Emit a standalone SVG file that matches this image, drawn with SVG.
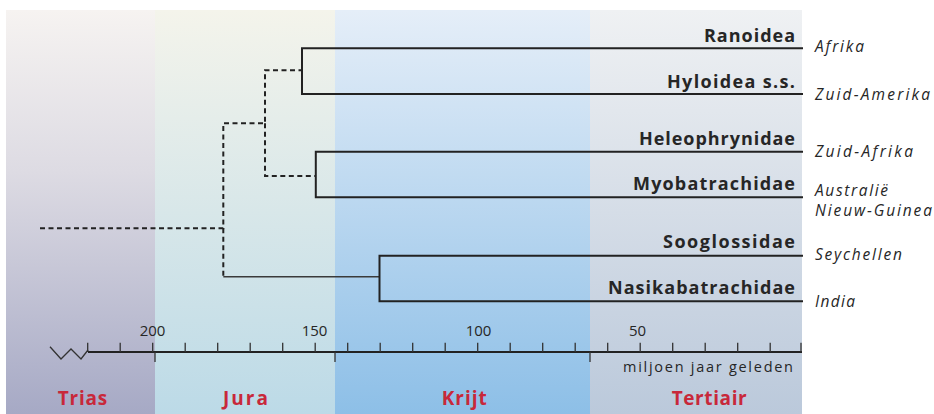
<svg xmlns="http://www.w3.org/2000/svg" width="934" height="414" viewBox="0 0 934 414">
<defs>
<linearGradient id="gTrias" x1="0" y1="0" x2="0" y2="1">
<stop offset="0" stop-color="#f6f3f1"/><stop offset="0.4" stop-color="#dddbe3"/><stop offset="1" stop-color="#a6a9c5"/>
</linearGradient>
<linearGradient id="gJura" x1="0" y1="0" x2="0" y2="1">
<stop offset="0" stop-color="#f4f4eb"/><stop offset="1" stop-color="#bcdae7"/>
</linearGradient>
<linearGradient id="gKrijt" x1="0" y1="0" x2="0" y2="1">
<stop offset="0" stop-color="#e5eef8"/><stop offset="1" stop-color="#8dbfe7"/>
</linearGradient>
<linearGradient id="gTert" x1="0" y1="0" x2="0" y2="1">
<stop offset="0" stop-color="#eff1f3"/><stop offset="1" stop-color="#bbc9db"/>
</linearGradient>
<style>
text{font-variant-ligatures:none}
.br{fill:none;stroke:#222;stroke-width:2;stroke-linecap:square}
.ds{fill:none;stroke:#222;stroke-width:2;stroke-dasharray:5 3.5}
.tick{stroke:#333;stroke-width:1.3}
.tax{font-family:"Open Sans",Lato,sans-serif;font-weight:bold;font-size:18px;fill:#262626;text-anchor:end}
.reg{font-family:"Open Sans",Lato,sans-serif;font-style:italic;font-size:15.5px;fill:#262626}
.num{font-family:"Open Sans",Lato,sans-serif;font-size:15px;fill:#262626;text-anchor:middle}
.per{font-family:"Open Sans",Lato,sans-serif;font-weight:bold;font-size:19px;fill:#c8283a;text-anchor:middle}
</style>
</defs>
<g id="background">
<rect x="6" y="10" width="149" height="404" fill="url(#gTrias)"/>
<rect x="155" y="10" width="180" height="404" fill="url(#gJura)"/>
<rect x="335" y="10" width="255" height="404" fill="url(#gKrijt)"/>
<rect x="590" y="10" width="212" height="404" fill="url(#gTert)"/>
</g>
<g id="connectors">
<path class="ds" d="M40 228.3 H223.3 V123.3 H265 V70.3 H302"/>
<path class="ds" d="M223.3 228.3 V276.7"/>
<path class="ds" d="M265 123.3 V176 H315.8"/>
<path d="M223.3 276.7 H379.5" fill="none" stroke="#3a3a3a" stroke-width="1.6"/>
<path class="br" d="M802 48.3 H302 V94 H802"/>
<path class="br" d="M802 151.7 H315.8 V197.3 H802"/>
<path class="br" d="M802 255.7 H379.5 V301.3 H802"/>
</g>
<g id="node-ranoidea"><text class="tax" x="795" y="41.7" textLength="91" lengthAdjust="spacing">Ranoidea</text><text class="reg" x="815" y="51.7" textLength="49" lengthAdjust="spacing">Afrika</text></g>
<g id="node-hyloidea"><text class="tax" x="795" y="88.3" textLength="128" lengthAdjust="spacing">Hyloidea s.s.</text><text class="reg" x="815" y="100" textLength="115" lengthAdjust="spacing">Zuid-Amerika</text></g>
<g id="node-heleophrynidae"><text class="tax" x="795" y="145" textLength="156" lengthAdjust="spacing">Heleophrynidae</text><text class="reg" x="815" y="156.7" textLength="98" lengthAdjust="spacing">Zuid-Afrika</text></g>
<g id="node-myobatrachidae"><text class="tax" x="795" y="190" textLength="162" lengthAdjust="spacing">Myobatrachidae</text><text class="reg" x="815" y="196" textLength="73" lengthAdjust="spacing">Australië</text><text class="reg" x="815" y="216" textLength="117" lengthAdjust="spacing">Nieuw-Guinea</text></g>
<g id="node-sooglossidae"><text class="tax" x="795" y="248.3" textLength="132" lengthAdjust="spacing">Sooglossidae</text><text class="reg" x="815" y="260" textLength="87" lengthAdjust="spacing">Seychellen</text></g>
<g id="node-nasikabatrachidae"><text class="tax" x="795" y="294" textLength="187" lengthAdjust="spacing">Nasikabatrachidae</text><text class="reg" x="815" y="306.7" textLength="40" lengthAdjust="spacing">India</text></g>
<g id="axis">
<polyline points="50,346.7 61,359 71,349 81,359 88,350" fill="none" stroke="#333" stroke-width="1.3"/>
<line x1="88" y1="352" x2="802" y2="352" stroke="#222" stroke-width="2.2"/>
<path class="tick" d="M87.7 342.7V352M120.2 342.7V352M152.7 342.7V352M185.2 342.7V352M217.7 342.7V352M250.2 342.7V352M282.7 342.7V352M315.2 342.7V352M347.7 342.7V352M380.2 342.7V352M412.7 342.7V352M445.2 342.7V352M477.7 342.7V352M510.2 342.7V352M542.7 342.7V352M575.2 342.7V352M607.7 342.7V352M640.2 342.7V352M672.7 342.7V352M705.2 342.7V352M737.7 342.7V352M770.2 342.7V352M801 342.7V352"/>
<path class="tick" d="M155 352V362M335 352V362M590 352V362"/>
<text class="num" x="152.5" y="335.7">200</text>
<text class="num" x="314.5" y="335.7">150</text>
<text class="num" x="478.5" y="335.7">100</text>
<text class="num" x="637.5" y="335.7">50</text>
<text x="623" y="371.7" font-family="'Open Sans',Lato,sans-serif" font-size="14.5" fill="#262626" textLength="170" lengthAdjust="spacing">miljoen jaar geleden</text>
</g>
<g id="periods">
<text class="per" x="82.5" y="405" textLength="49.6" lengthAdjust="spacing">Trias</text>
<text class="per" x="245.5" y="405" textLength="45" lengthAdjust="spacing">Jura</text>
<text class="per" x="464.2" y="405" textLength="45" lengthAdjust="spacing">Krijt</text>
<text class="per" x="709.2" y="405" textLength="75" lengthAdjust="spacing">Tertiair</text>
</g>
</svg>
